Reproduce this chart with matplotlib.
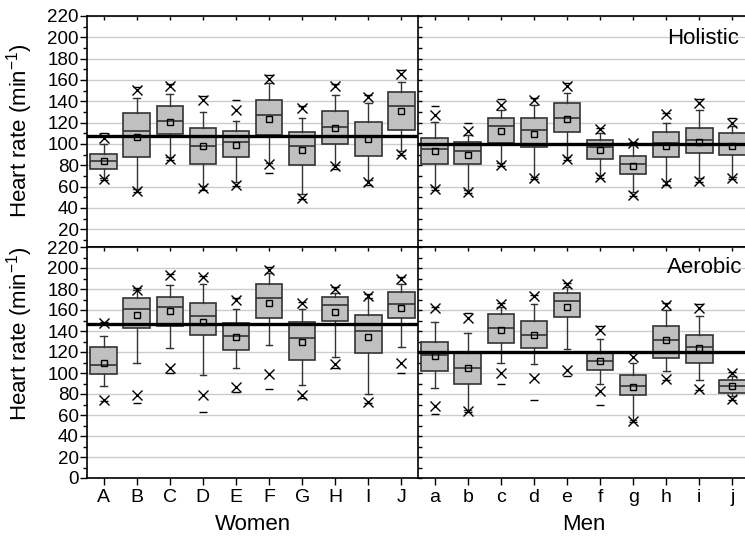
import matplotlib
matplotlib.use("Agg")
import matplotlib.pyplot as plt
from matplotlib.ticker import MultipleLocator, FixedLocator

plt.rcParams['font.family'] = ['Liberation Sans', 'DejaVu Sans']
plt.rcParams['mathtext.default'] = 'regular'

women = list("ABCDEFGHIJ")
men = list("abcdefghij")

# ---- Holistic, women ----
hw_q1   = [77, 88, 109, 81, 88, 108, 80, 100, 89, 113]
hw_med  = [84, 112, 122, 98, 102, 127, 98, 116, 107, 136]
hw_q3   = [91, 129, 136, 115, 112, 141, 111, 131, 121, 149]
hw_wlo  = [68, 58, 88, 61, 64, 82, 53, 80, 66, 93]
hw_whi  = [100, 143, 147, 130, 122, 157, 124, 146, 138, 158]
hw_mean = [84, 107, 121, 98, 99, 123, 94, 115, 105, 131]
hw_p1   = [67, 56, 86, 59, 62, 81, 49, 79, 64, 91]
hw_p99  = [106, 151, 154, 141, 132, 161, 134, 154, 144, 166]
hw_min  = [66, 55, 85, 57, 61, 73, 48, 77, 62, 90]
hw_max  = [110, 153, 156, 145, 141, 165, 136, 156, 146, 169]
hw_ref = 107.4

# ---- Holistic, men ----
hm_q1   = [81, 81, 101, 97, 111, 86, 72, 88, 92, 90]
hm_med  = [95, 93, 117, 113, 124, 97, 81, 101, 104, 100]
hm_q3   = [106, 102, 124, 124, 138, 104, 89, 111, 115, 110]
hm_wlo  = [60, 57, 82, 69, 88, 71, 55, 65, 68, 69]
hm_whi  = [121, 108, 132, 137, 148, 110, 99, 120, 132, 117]
hm_mean = [93, 90, 112, 109, 123, 94, 79, 98, 102, 98]
hm_p1   = [58, 55, 80, 68, 86, 69, 52, 63, 65, 68]
hm_p99  = [127, 112, 137, 141, 154, 114, 101, 128, 138, 120]
hm_min  = [57, 54, 79, 67, 85, 68, 51, 62, 64, 67]
hm_max  = [136, 120, 142, 143, 157, 115, 102, 129, 142, 124]
hm_ref = 100.0

# ---- Aerobic, women ----
aw_q1   = [99, 143, 145, 136, 122, 152, 112, 150, 119, 152]
aw_med  = [108, 161, 163, 154, 135, 171, 133, 165, 140, 166]
aw_q3   = [125, 171, 172, 167, 148, 185, 149, 172, 155, 177]
aw_wlo  = [88, 110, 124, 98, 105, 127, 89, 115, 80, 125]
aw_whi  = [135, 179, 184, 185, 161, 195, 161, 176, 171, 185]
aw_mean = [110, 155, 159, 149, 134, 167, 130, 158, 134, 162]
aw_p1   = [74, 79, 105, 79, 87, 99, 79, 109, 72, 110]
aw_p99  = [148, 179, 193, 191, 170, 198, 167, 180, 173, 190]
aw_min  = [73, 71, 100, 63, 82, 85, 76, 105, 71, 100]
aw_max  = [149, 181, 194, 192, 171, 201, 168, 182, 175, 191]
aw_ref = 146.2

# ---- Aerobic, men ----
am_q1   = [102, 90, 129, 124, 153, 103, 79, 114, 110, 81]
am_med  = [117, 105, 143, 136, 169, 111, 88, 131, 125, 88]
am_q3   = [130, 119, 156, 150, 176, 119, 98, 145, 136, 93]
am_wlo  = [86, 65, 110, 109, 123, 90, 55, 102, 93, 78]
am_whi  = [149, 138, 163, 166, 182, 132, 110, 160, 154, 97]
am_mean = [116, 105, 141, 136, 163, 111, 87, 131, 124, 88]
am_p1   = [69, 64, 100, 95, 103, 83, 54, 94, 85, 75]
am_p99  = [162, 152, 166, 173, 185, 141, 115, 165, 162, 100]
am_min  = [61, 63, 90, 74, 97, 70, 53, 93, 84, 74]
am_max  = [163, 157, 167, 174, 186, 145, 120, 167, 166, 101]
am_ref = 120.3

W, H = 745, 539
fig = plt.figure(figsize=(W / 100, H / 100), dpi=100)

def fx(px):
    return px / W

def fy(py):
    return 1 - py / H

left_x, mid_x, right_x = 87, 418, 749
top_y, mid_y, bot_y = 16, 247, 478

ax_tl = fig.add_axes([fx(left_x), fy(mid_y), fx(mid_x - left_x), fy(top_y) - fy(mid_y)])
ax_tr = fig.add_axes([fx(mid_x), fy(mid_y), fx(right_x - mid_x), fy(top_y) - fy(mid_y)])
ax_bl = fig.add_axes([fx(left_x), fy(bot_y), fx(mid_x - left_x), fy(mid_y) - fy(bot_y)])
ax_br = fig.add_axes([fx(mid_x), fy(bot_y), fx(right_x - mid_x), fy(mid_y) - fy(bot_y)])

panels = [
    (ax_tl, women, hw_q1, hw_med, hw_q3, hw_wlo, hw_whi, hw_mean, hw_p1, hw_p99, hw_min, hw_max, hw_ref, True, True),
    (ax_tr, men, hm_q1, hm_med, hm_q3, hm_wlo, hm_whi, hm_mean, hm_p1, hm_p99, hm_min, hm_max, hm_ref, False, True),
    (ax_bl, women, aw_q1, aw_med, aw_q3, aw_wlo, aw_whi, aw_mean, aw_p1, aw_p99, aw_min, aw_max, aw_ref, True, False),
    (ax_br, men, am_q1, am_med, am_q3, am_wlo, am_whi, am_mean, am_p1, am_p99, am_min, am_max, am_ref, False, False),
]

edge = '#333333'
for (ax, cats, q1, med, q3, wlo, whi, mean, p1, p99, vmin, vmax, ref, is_left, is_top) in panels:
    pos = list(range(len(cats)))
    stats = []
    for i in pos:
        stats.append(dict(q1=q1[i], med=med[i], q3=q3[i], whislo=wlo[i], whishi=whi[i],
                          mean=mean[i], fliers=[]))
    ax.set_axisbelow(True)
    ax.yaxis.grid(True, color='#cccccc', lw=1.0)
    ax.bxp(stats, positions=pos, widths=0.8, capwidths=0.2, patch_artist=True,
           showmeans=True, showfliers=False, manage_ticks=False,
           boxprops=dict(facecolor='#c0c0c0', edgecolor=edge, lw=1.2),
           medianprops=dict(color=edge, lw=1.2),
           whiskerprops=dict(color=edge, lw=1.0),
           capprops=dict(color=edge, lw=1.0),
           meanprops=dict(marker='s', markersize=5, markerfacecolor='none',
                          markeredgecolor='black', markeredgewidth=1.0),
           zorder=3)
    ax.plot(pos, p1, ls='none', marker='x', ms=7, mew=1.0, color='black', zorder=4)
    ax.plot(pos, p99, ls='none', marker='x', ms=7, mew=1.0, color='black', zorder=4)
    ax.plot(pos, vmin, ls='none', marker='_', ms=6, mew=1.0, color='black', zorder=4)
    ax.plot(pos, vmax, ls='none', marker='_', ms=6, mew=1.0, color='black', zorder=4)
    ax.axhline(ref, color='black', lw=2.4, zorder=5)

    ax.set_xlim(-0.5, len(cats) - 0.5)
    if is_top:
        ax.set_ylim(3.4, 220)
        ax.yaxis.set_major_locator(FixedLocator(list(range(20, 221, 20))))
    else:
        ax.set_ylim(0, 220)
        ax.yaxis.set_major_locator(FixedLocator(list(range(0, 221, 20))))
    ax.yaxis.set_minor_locator(MultipleLocator(10))
    ax.set_xticks(pos)
    for s in ax.spines.values():
        s.set_linewidth(1.2)
        s.set_color('black')
    ax.spines['right'].set_visible(False)

    if is_left:
        ax.tick_params(axis='y', which='major', direction='out', length=5, width=1, labelsize=13.5, pad=1)
        ax.tick_params(axis='y', which='minor', direction='out', length=3, width=1)
    else:
        ax.tick_params(axis='y', which='both', direction='in', length=3, width=1, labelleft=False)
    if is_top:
        ax.tick_params(axis='x', direction='in', length=3, width=1, top=True, bottom=False, labelbottom=False)
    else:
        ax.set_xticklabels(cats)
        ax.tick_params(axis='x', direction='out', length=5, width=1, labelsize=14, pad=3)
        ax.tick_params(axis='x', which='major', top=True)
        # top ticks inward
        for t in ax.xaxis.get_major_ticks():
            t.tick2line.set_marker(3)  # TICKDOWN
            t.tick2line.set_markersize(3)

ylab = 'Heart rate (min$^{-1}$)'
fig.text(fx(20), fy(131), ylab, rotation=90, ha='center', va='center', fontsize=16)
fig.text(fx(20), fy(334), ylab, rotation=90, ha='center', va='center', fontsize=16)
fig.text(fx(739), fy(28), 'Holistic', ha='right', va='top', fontsize=16)
fig.text(fx(742), fy(257), 'Aerobic', ha='right', va='top', fontsize=16)
fig.text(fx(253), fy(524), 'Women', ha='center', va='center', fontsize=16)
fig.text(fx(584), fy(524), 'Men', ha='center', va='center', fontsize=16)

fig.savefig('out.png', dpi=100)
